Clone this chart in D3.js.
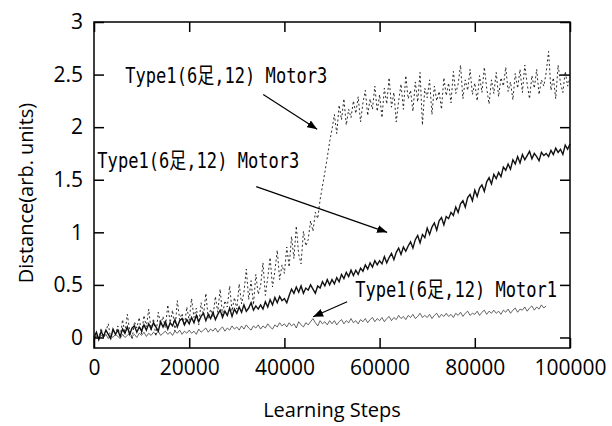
<!DOCTYPE html>
<html>
<head>
<meta charset="utf-8">
<script src="https://cdn.jsdelivr.net/npm/d3@7"></script>
<style>
  html, body { margin: 0; padding: 0; background: #fff; }
  svg { display: block; }
</style>
</head>
<body>
<div id="chart"></div>
<script>
// sampling interval of the curves (learning steps)
const stepSize = 500;

const xTicks = [0, 20000, 40000, 60000, 80000, 100000];
const yTicks = [0, 0.5, 1, 1.5, 2, 2.5, 3];

// Type1 Motor3, fast learner (dashed curve)
const motor3FastValues = [
	-0.04, 0.03, -0.02, 0.09, 0.00, 0.06, 0.13, -0.01, 0.08, 0.02,
	0.11, 0.00, 0.17, 0.04, 0.22, 0.06, -0.02, 0.15, 0.09, 0.19,
	0.03, 0.21, 0.10, 0.27, 0.07, 0.18, 0.01, 0.24, 0.12, 0.20,
	0.09, 0.31, 0.14, 0.26, 0.06, 0.35, 0.17, 0.23, 0.11, 0.29,
	0.16, 0.37, 0.19, 0.28, 0.12, 0.33, 0.21, 0.42, 0.18, 0.27,
	0.20, 0.39, 0.24, 0.46, 0.21, 0.35, 0.29, 0.49, 0.25, 0.38,
	0.27, 0.51, 0.32, 0.43, 0.65, 0.36, 0.54, 0.31, 0.60, 0.41,
	0.49, 0.71, 0.40, 0.57, 0.76, 0.48, 0.63, 0.83, 0.55, 0.69,
	0.61, 0.86, 0.67, 0.96, 0.75, 1.06, 0.79, 0.70, 1.01, 0.87,
	0.93, 1.11, 1.01, 1.19, 1.13, 1.31, 1.44, 1.57, 1.71, 1.86,
	1.98, 2.12, 1.94, 2.21, 2.07, 2.27, 2.02, 2.17, 2.09, 2.25,
	2.13, 2.29, 2.05, 2.23, 2.35, 2.11, 2.27, 2.17, 2.39, 2.15,
	2.31, 2.09, 2.37, 2.22, 2.47, 2.19, 2.33, 2.05, 2.25, 2.41,
	2.17, 2.49, 2.27, 2.35, 2.15, 2.43, 2.24, 2.52, 2.02, 2.37,
	2.28, 2.45, 2.12, 2.39, 2.25, 2.34, 2.17, 2.47, 2.30, 2.42,
	2.23, 2.53, 2.32, 2.41, 2.59, 2.27, 2.45, 2.35, 2.55, 2.31,
	2.42, 2.25, 2.49, 2.33, 2.57, 2.37, 2.22, 2.45, 2.32, 2.52,
	2.29, 2.47, 2.39, 2.57, 2.34, 2.43, 2.26, 2.51, 2.37, 2.55,
	2.33, 2.59, 2.41, 2.27, 2.49, 2.37, 2.55, 2.31, 2.45, 2.39,
	2.52, 2.72, 2.35, 2.47, 2.27, 2.59, 2.42, 2.33, 2.53, 2.39,
	2.47
];

// Type1 Motor3, slow learner (solid curve)
const motor3SlowValues = [
	0.00, 0.05, -0.02, 0.06, 0.01, 0.07, 0.03, -0.01, 0.08, 0.03,
	0.07, 0.01, 0.08, 0.04, 0.10, 0.03, 0.09, 0.11, 0.05, 0.10,
	0.06, 0.12, 0.07, 0.13, 0.08, 0.14, 0.10, 0.06, 0.15, 0.10,
	0.15, 0.08, 0.14, 0.11, 0.17, 0.10, 0.16, 0.18, 0.12, 0.17,
	0.13, 0.19, 0.14, 0.21, 0.15, 0.20, 0.23, 0.16, 0.22, 0.18,
	0.24, 0.17, 0.22, 0.26, 0.19, 0.25, 0.21, 0.28, 0.20, 0.27,
	0.23, 0.29, 0.24, 0.31, 0.25, 0.28, 0.33, 0.26, 0.30, 0.27,
	0.31, 0.27, 0.34, 0.29, 0.36, 0.31, 0.38, 0.33, 0.39, 0.35,
	0.37, 0.33, 0.40, 0.46, 0.42, 0.48, 0.43, 0.49, 0.42, 0.47,
	0.45, 0.50, 0.46, 0.42, 0.49, 0.47, 0.53, 0.49, 0.55, 0.50,
	0.55, 0.51, 0.57, 0.53, 0.60, 0.56, 0.62, 0.58, 0.64, 0.59,
	0.64, 0.60, 0.66, 0.63, 0.69, 0.65, 0.71, 0.67, 0.73, 0.69,
	0.73, 0.70, 0.77, 0.71, 0.76, 0.80, 0.74, 0.81, 0.85, 0.79,
	0.86, 0.82, 0.87, 0.91, 0.85, 0.93, 0.97, 0.90, 0.98, 0.95,
	1.04, 0.98, 1.05, 1.09, 1.02, 1.11, 1.14, 1.07, 1.15, 1.13,
	1.19, 1.16, 1.24, 1.19, 1.27, 1.30, 1.24, 1.33, 1.36, 1.30,
	1.40, 1.34, 1.42, 1.45, 1.39, 1.48, 1.52, 1.46, 1.55, 1.51,
	1.57, 1.53, 1.62, 1.59, 1.65, 1.60, 1.69, 1.65, 1.72, 1.66,
	1.74, 1.69, 1.73, 1.77, 1.70, 1.75, 1.72, 1.68, 1.76, 1.73,
	1.75, 1.72, 1.78, 1.74, 1.80, 1.76, 1.79, 1.74, 1.83, 1.79,
	1.84
];

// Type1 Motor1 (thin solid curve, ends at 95000)
const motor1Values = [
	-0.02, 0.01, -0.01, 0.02, 0.00, 0.03, -0.01, 0.02, 0.00, 0.03,
	0.01, -0.01, 0.03, 0.00, 0.02, 0.04, 0.01, 0.03, 0.00, 0.04,
	0.02, 0.05, 0.01, 0.04, 0.02, 0.05, 0.03, 0.06, 0.02, 0.04,
	0.06, 0.03, 0.05, 0.02, 0.06, 0.04, 0.07, 0.03, 0.06, 0.04,
	0.07, 0.04, 0.06, 0.03, 0.08, 0.05, 0.07, 0.09, 0.05, 0.08,
	0.06, 0.09, 0.05, 0.08, 0.10, 0.06, 0.09, 0.07, 0.11, 0.08,
	0.10, 0.07, 0.11, 0.08, 0.12, 0.09, 0.07, 0.11, 0.09, 0.12,
	0.08, 0.11, 0.09, 0.13, 0.10, 0.08, 0.12, 0.10, 0.14, 0.11,
	0.13, 0.10, 0.14, 0.11, 0.13, 0.09, 0.15, 0.12, 0.10, 0.14,
	0.12, 0.15, 0.18, 0.14, 0.11, 0.16, 0.13, 0.15, 0.12, 0.16,
	0.13, 0.16, 0.12, 0.15, 0.17, 0.13, 0.16, 0.14, 0.18, 0.14,
	0.16, 0.13, 0.17, 0.15, 0.18, 0.14, 0.17, 0.19, 0.15, 0.18,
	0.16, 0.19, 0.15, 0.18, 0.20, 0.16, 0.19, 0.17, 0.21, 0.18,
	0.20, 0.17, 0.21, 0.19, 0.22, 0.18, 0.20, 0.23, 0.19, 0.21,
	0.19, 0.22, 0.18, 0.21, 0.23, 0.19, 0.22, 0.20, 0.23, 0.20,
	0.22, 0.19, 0.23, 0.21, 0.24, 0.20, 0.23, 0.25, 0.21, 0.23,
	0.22, 0.25, 0.21, 0.24, 0.26, 0.22, 0.25, 0.23, 0.26, 0.23,
	0.25, 0.22, 0.26, 0.24, 0.27, 0.23, 0.26, 0.28, 0.24, 0.27,
	0.26, 0.29, 0.25, 0.28, 0.30, 0.26, 0.29, 0.27, 0.31, 0.28,
	0.30
];

// annotation labels and arrows, in data units
const annotations = [
	{ text: 'Type1(6足,12) Motor3', at: [6570, 2.42], from: [35550, 2.31], to: [46880, 1.98] },
	{ text: 'Type1(6足,12) Motor3', at: [700, 1.615], from: [34080, 1.435], to: [61580, 1.0] },
	{ text: 'Type1(6足,12) Motor1', at: [54860, 0.388], from: [53180, 0.34], to: [46040, 0.197] }
];

const width = 612, height = 426;
const margin = { top: 22, right: 42, bottom: 78, left: 94 };
const plotW = width - margin.left - margin.right;
const plotH = height - margin.top - margin.bottom;

const svg = d3.select('#chart').append('svg')
	.attr('width', width)
	.attr('height', height);

const g = svg.append('g')
	.attr('transform', 'translate(' + margin.left + ',' + margin.top + ')');

const x = d3.scaleLinear().domain([0, 100000]).range([0, plotW]);
const y = d3.scaleLinear().domain([-0.1, 3]).range([plotH, 0]);

const tickFont = "'Open Sans', 'Noto Sans', sans-serif";
const noteFont = "'DejaVu Sans Mono', 'Noto Sans CJK JP', monospace";

// curves
const line = d3.line()
	.x(function(d, i) { return x(i * stepSize); })
	.y(function(d) { return y(d); });

g.append('path')
	.datum(motor1Values)
	.attr('d', line)
	.attr('fill', 'none')
	.attr('stroke', '#222')
	.attr('stroke-width', 0.7);

g.append('path')
	.datum(motor3SlowValues)
	.attr('d', line)
	.attr('fill', 'none')
	.attr('stroke', '#111')
	.attr('stroke-width', 1.4);

g.append('path')
	.datum(motor3FastValues)
	.attr('d', line)
	.attr('fill', 'none')
	.attr('stroke', '#111')
	.attr('stroke-width', 0.9)
	.attr('stroke-dasharray', '2,2.5');

// axes with inward ticks on all four sides
function styleAxis(sel) {
	sel.selectAll('.domain').remove();
	sel.selectAll('.tick line').attr('stroke', '#000').attr('stroke-width', 1.5);
	sel.selectAll('.tick text')
		.attr('fill', '#000')
		.style('font-family', tickFont)
		.style('font-size', '21px');
}

g.append('g')
	.attr('transform', 'translate(0,' + plotH + ')')
	.call(d3.axisBottom(x).tickValues(xTicks).tickFormat(d3.format('d')).tickSizeInner(-10).tickSizeOuter(0).tickPadding(12))
	.call(styleAxis);

g.append('g')
	.call(d3.axisTop(x).tickValues(xTicks).tickFormat('').tickSizeInner(-10).tickSizeOuter(0))
	.call(styleAxis);

g.append('g')
	.call(d3.axisLeft(y).tickValues(yTicks).tickFormat(d3.format('')).tickSizeInner(-10).tickSizeOuter(0).tickPadding(11))
	.call(styleAxis);

g.append('g')
	.attr('transform', 'translate(' + plotW + ',0)')
	.call(d3.axisRight(y).tickValues(yTicks).tickFormat('').tickSizeInner(-10).tickSizeOuter(0))
	.call(styleAxis);

// frame
g.append('rect')
	.attr('width', plotW)
	.attr('height', plotH)
	.attr('fill', 'none')
	.attr('stroke', '#000')
	.attr('stroke-width', 1.5);

// axis titles
svg.append('text')
	.attr('x', margin.left + plotW / 2)
	.attr('y', 417)
	.attr('text-anchor', 'middle')
	.style('font-family', tickFont)
	.style('font-size', '20px')
	.text('Learning Steps');

svg.append('text')
	.attr('transform', 'translate(33,' + 193 + ') rotate(-90)')
	.attr('text-anchor', 'middle')
	.style('font-family', tickFont)
	.style('font-size', '20px')
	.text('Distance(arb. units)');

// arrowhead
svg.append('defs').append('marker')
	.attr('id', 'arrow')
	.attr('viewBox', '0 0 10 8')
	.attr('refX', 10)
	.attr('refY', 4)
	.attr('markerUnits', 'userSpaceOnUse')
	.attr('markerWidth', 10)
	.attr('markerHeight', 8)
	.attr('orient', 'auto')
	.append('path')
	.attr('d', 'M0,0 L10,4 L0,8 Z')
	.attr('fill', '#000');

annotations.forEach(function(a) {
	g.append('line')
		.attr('x1', x(a.from[0]))
		.attr('y1', y(a.from[1]))
		.attr('x2', x(a.to[0]))
		.attr('y2', y(a.to[1]))
		.attr('stroke', '#000')
		.attr('stroke-width', 1.2)
		.attr('marker-end', 'url(#arrow)');

	g.append('text')
		.attr('x', x(a.at[0]))
		.attr('y', y(a.at[1]))
		.attr('textLength', 202)
		.attr('lengthAdjust', 'spacingAndGlyphs')
		.style('font-family', noteFont)
		.style('font-size', '22px')
		.attr('fill', '#000')
		.text(a.text);
});
</script>
</body>
</html>
